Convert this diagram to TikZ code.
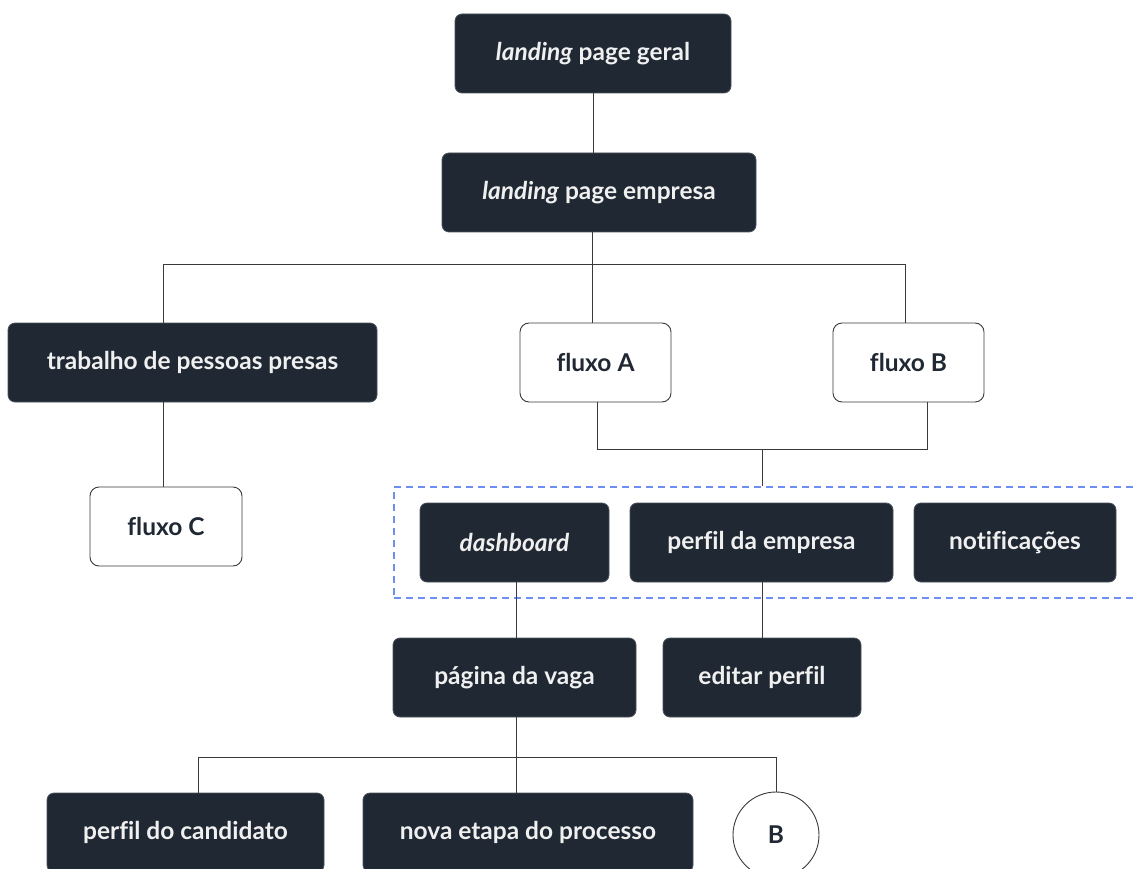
\documentclass[tikz,border=0pt]{standalone}
\usepackage{fontspec}
\setmainfont{Lato}[Ligatures=NoCommon]
\definecolor{boxdark}{HTML}{1F2833}
\definecolor{linegray}{HTML}{3A3A3A}
\definecolor{dashblue}{HTML}{6E8EF5}
\begin{document}
\begin{tikzpicture}[x=1pt,y=-1pt,
  dark/.style={draw=boxdark!80!white,line width=0.8pt,fill=boxdark,rounded corners=7pt,text=white!94!black,
    minimum height=79pt,inner sep=0pt,font=\fontsize{24.5}{28}\selectfont\bfseries},
  light/.style={draw=linegray,line width=0.9pt,fill=white,rounded corners=9pt,text=boxdark,
    minimum height=79pt,inner sep=0pt,font=\fontsize{24.5}{28}\selectfont\bfseries},
  conn/.style={draw=linegray,line width=0.9pt},
  grp/.style={draw=dashblue,line width=1.1pt,dash pattern=on 7pt off 5pt,inner sep=0pt}]
\clip (0,0) rectangle (1135,869);
\fill[white] (0,0) rectangle (1135,869);
% nodes
\node[dark,minimum width=276pt] (geral) at (593,53.5) {\textit{landing} page geral};
\node[dark,minimum width=314pt] (empresa) at (599,192.5) {\textit{landing} page empresa};
\node[dark,minimum width=369pt] (trab) at (192.5,362.5) {trabalho de pessoas presas};
\node[light,minimum width=151pt] (fluxoA) at (595.5,362.5) {fluxo A};
\node[light,minimum width=151pt] (fluxoB) at (908.5,362.5) {fluxo B};
\node[light,minimum width=152pt] (fluxoC) at (166,526.5) {fluxo C};
\node[grp,minimum width=752pt,minimum height=111pt] (group) at (770,542.5) {};
\node[dark,minimum width=189pt] (dash) at (514.5,542.5) {\textit{dashboard}};
\node[dark,minimum width=263pt] (perfemp) at (761.5,542.5) {perfil da empresa};
\node[dark,minimum width=202pt] (notif) at (1015,542.5) {notificações};
\node[dark,minimum width=243pt] (pagina) at (514.5,677.5) {página da vaga};
\node[dark,minimum width=198pt] (editar) at (762,677.5) {editar perfil};
\node[dark,minimum width=277pt] (cand) at (185.5,832.5) {perfil do candidato};
\node[dark,minimum width=330pt] (etapa) at (528,832.5) {nova etapa do processo};
\node[light,circle,minimum size=86pt,rounded corners=0pt] (B) at (776,835) {B};
% junction coordinates
\coordinate (jL) at (163,264);
\coordinate (jM) at (592,264);
\coordinate (jR) at (905,264);
\coordinate (jA) at (597,449);
\coordinate (jB) at (927,449);
\coordinate (jC) at (762,449);
\coordinate (jD) at (516,757);
\coordinate (jDL) at (198,757);
\coordinate (jDR) at (776,757);
% connectors
\draw[conn] (geral.south) -- (geral.south |- empresa.north);
\draw[conn] (empresa.south -| jM) -- (fluxoA.north -| jM);
\draw[conn] (trab.north -| jL) -- (jL) -- (jR) -- (fluxoB.north -| jR);
\draw[conn] (trab.south -| jL) -- (fluxoC.north -| jL);
\draw[conn] (fluxoA.south -| jA) -- (jA) -- (jB) -- (fluxoB.south -| jB);
\draw[conn] (jC) -- (group.north -| jC);
\draw[conn] (dash.south -| jD) -- (pagina.north -| jD);
\draw[conn] (perfemp.south -| jC) -- (editar.north -| jC);
\draw[conn] (pagina.south -| jD) -- (etapa.north -| jD);
\draw[conn] (cand.north -| jDL) -- (jDL) -- (jDR) -- (B.north);
\end{tikzpicture}
\end{document}
